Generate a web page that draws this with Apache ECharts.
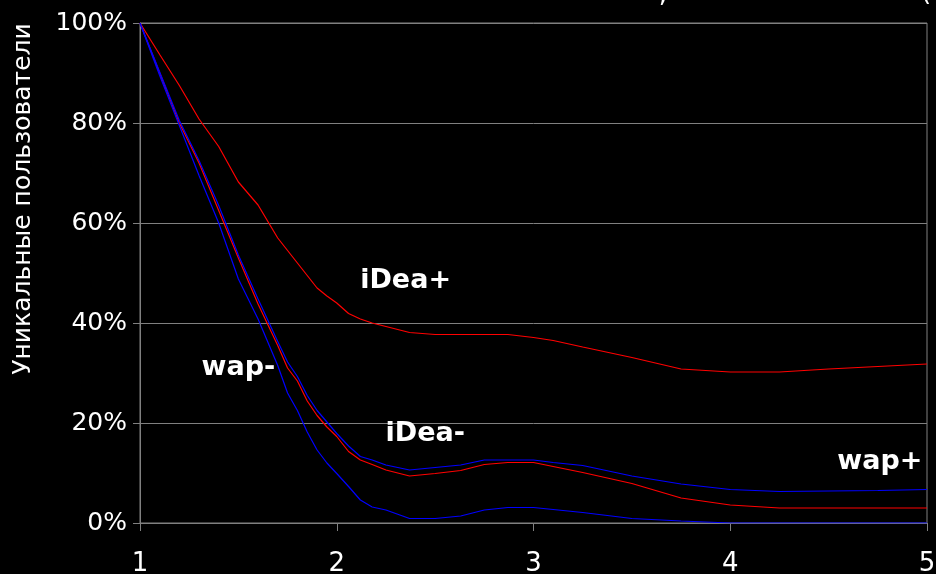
<!DOCTYPE html>
<html>
<head>
<meta charset="utf-8">
<script src="https://cdn.jsdelivr.net/npm/echarts@6/dist/echarts.min.js"></script>
<style>
html,body{margin:0;padding:0;background:#000;}
#chart{width:936px;height:574px;}
</style>
</head>
<body>
<div id="chart"></div>
<script>
// Shared x positions
var xs = [1, 1.1, 1.2, 1.3, 1.4, 1.5, 1.6, 1.7, 1.75, 1.8, 1.85, 1.9, 1.95, 2.0, 2.06, 2.12, 2.18, 2.25, 2.37, 2.5, 2.63, 2.75, 2.87, 3.0, 3.1, 3.25, 3.5, 3.75, 4.0, 4.25, 4.5, 4.75, 5.0];

// Series values (%)
var ideaPlus  = [100, 93.7, 87.5, 80.8, 75.3, 68.2, 63.6, 57, 54.5, 52, 49.5, 47, 45.4, 44, 41.9, 40.8, 40, 39.3, 38.1, 37.7, 37.7, 37.7, 37.7, 37.1, 36.5, 35.2, 33.1, 30.8, 30.2, 30.2, 30.8, 31.3, 31.8];
var ideaMinus = [100, 90, 80, 72, 62.5, 53, 43.8, 35.5, 31, 28.4, 24.4, 21.5, 19.2, 17.3, 14.3, 12.6, 11.7, 10.6, 9.4, 9.9, 10.5, 11.7, 12.1, 12.1, 11.3, 10.1, 7.9, 5.0, 3.6, 3.0, 3.0, 3.0, 3.0];
var wapPlus   = [100, 90.2, 80.5, 72.5, 63.5, 53.6, 44.8, 36.3, 32.2, 29.3, 25.5, 22.5, 20.2, 17.9, 15.4, 13.3, 12.6, 11.6, 10.6, 11.1, 11.6, 12.6, 12.6, 12.6, 12.1, 11.5, 9.4, 7.8, 6.7, 6.3, 6.4, 6.5, 6.7];
var wapMinus  = [100, 89.5, 79.5, 69.5, 60, 48.8, 40.8, 31.5, 26, 22.5, 18.2, 14.6, 12, 9.9, 7.3, 4.6, 3.2, 2.6, 0.9, 0.9, 1.4, 2.6, 3.1, 3.1, 2.7, 2.1, 0.9, 0.4, 0, 0, 0, 0, 0];

// Annotation labels (name, x, y in data units)
var labelNames = ['iDea+', 'wap-', 'iDea-', 'wap+'];
var labelX = [2.35, 1.50, 2.45, 4.76];
var labelY = [48.4, 31, 17.8, 12.2];

var yTicks = [0, 20, 40, 60, 80, 100];
var yAxisTitle = 'Уникальные пользователи';

function pairs(ys) { return xs.map(function (x, i) { return [x, ys[i]]; }); }

var FONT = 'DejaVu Sans, Verdana, sans-serif';
var GRAY = '#808080';

var chart = echarts.init(document.getElementById('chart'), null, {renderer: 'canvas'});

function lineSeries(name, ys, color) {
  return {
    name: name, type: 'line', data: pairs(ys), showSymbol: false, symbol: 'none',
    lineStyle: {color: color, width: 1.2}, itemStyle: {color: color}, silent: true, z: 3
  };
}

var option = {
  backgroundColor: '#000000',
  animation: false,
  grid: {left: 140, right: 9, top: 23, bottom: 51, show: true, borderColor: GRAY, borderWidth: 1,
         containLabel: false, outerBoundsMode: 'none'},
  graphic: [
    {type: 'text', x: 23, y: 199, rotation: Math.PI / 2,
     style: {text: yAxisTitle, fill: '#ffffff', font: '25px ' + FONT, textAlign: 'center', textVerticalAlign: 'middle'}},
    {type: 'text', x: 663, y: -18,
     style: {text: ',', fill: '#ffffff', font: '26px ' + FONT, textAlign: 'center', textVerticalAlign: 'top'}},
    {type: 'text', x: 926, y: -20,
     style: {text: '(', fill: '#ffffff', font: '26px ' + FONT, textAlign: 'center', textVerticalAlign: 'top'}}
  ],
  xAxis: {
    type: 'value', min: 1, max: 5, interval: 1,
    axisLine: {show: true, lineStyle: {color: GRAY, width: 1}},
    axisTick: {show: true, length: 8, lineStyle: {color: GRAY}},
    axisLabel: {color: '#ffffff', fontSize: 26, fontFamily: FONT, margin: 28, hideOverlap: false},
    splitLine: {show: false}
  },
  yAxis: {
    type: 'value', min: 0, max: 100, interval: 20,
    axisLine: {show: true, lineStyle: {color: GRAY, width: 1}},
    axisTick: {show: true, length: 7, lineStyle: {color: GRAY}},
    axisLabel: {color: '#ffffff', fontSize: 25, fontFamily: FONT, margin: 13,
      formatter: function (v) { return yTicks.indexOf(v) >= 0 ? v + '%' : ''; }},
    splitLine: {show: true, lineStyle: {color: GRAY, width: 1}}
  },
  series: [
    lineSeries('iDea+', ideaPlus, '#ff0000'),
    lineSeries('iDea-', ideaMinus, '#ff0000'),
    lineSeries('wap+', wapPlus, '#0000ff'),
    lineSeries('wap-', wapMinus, '#0000ff'),
    {
      name: 'labels', type: 'scatter', symbolSize: 0, silent: true, z: 5,
      itemStyle: {opacity: 1},
      data: labelNames.map(function (n, i) { return {name: n, value: [labelX[i], labelY[i]]}; }),
      label: {show: true, position: 'inside', formatter: '{b}', color: '#ffffff', opacity: 1,
        fontSize: 27, fontWeight: 'bold', fontFamily: FONT}
    }
  ]
};
chart.setOption(option);
</script>
</body>
</html>
